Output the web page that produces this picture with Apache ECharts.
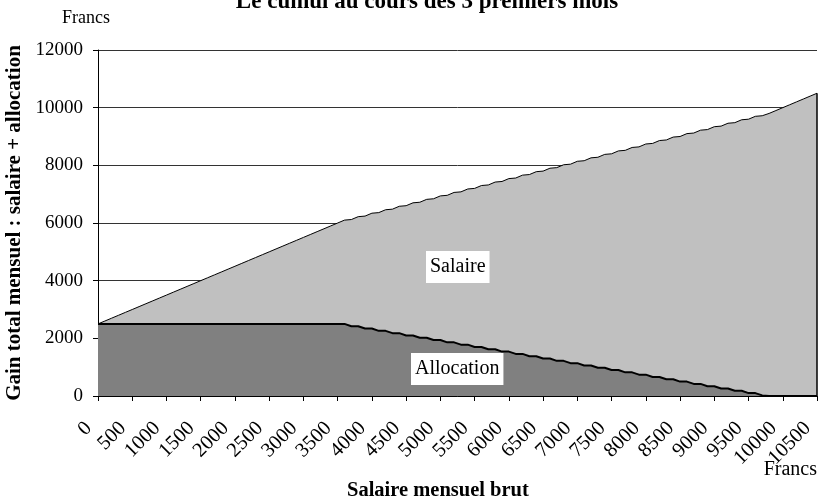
<!DOCTYPE html>
<html>
<head>
<meta charset="utf-8">
<script src="https://cdn.jsdelivr.net/npm/echarts@6/dist/echarts.min.js"></script>
<style>
  html, body { margin: 0; padding: 0; background: #fff; }
  #chart { width: 827px; height: 500px; }
</style>
</head>
<body>
<div id="chart"></div>
<script>
  // salaire mensuel brut (francs), also the salary part of the stack
  const salaireBrut = [
    0, 100, 200, 300, 400, 500, 600, 700, 800, 900,
    1000, 1100, 1200, 1300, 1400, 1500, 1600, 1700, 1800, 1900,
    2000, 2100, 2200, 2300, 2400, 2500, 2600, 2700, 2800, 2900,
    3000, 3100, 3200, 3300, 3400, 3500, 3600, 3700, 3800, 3900,
    4000, 4100, 4200, 4300, 4400, 4500, 4600, 4700, 4800, 4900,
    5000, 5100, 5200, 5300, 5400, 5500, 5600, 5700, 5800, 5900,
    6000, 6100, 6200, 6300, 6400, 6500, 6600, 6700, 6800, 6900,
    7000, 7100, 7200, 7300, 7400, 7500, 7600, 7700, 7800, 7900,
    8000, 8100, 8200, 8300, 8400, 8500, 8600, 8700, 8800, 8900,
    9000, 9100, 9200, 9300, 9400, 9500, 9600, 9700, 9800, 9900,
    10000, 10100, 10200, 10300, 10400, 10500
  ];

  const allocation = [
    2500, 2500, 2500, 2500, 2500, 2500, 2500, 2500, 2500, 2500,
    2500, 2500, 2500, 2500, 2500, 2500, 2500, 2500, 2500, 2500,
    2500, 2500, 2500, 2500, 2500, 2500, 2500, 2500, 2500, 2500,
    2500, 2500, 2500, 2500, 2500, 2500, 2500, 2420, 2420, 2340,
    2340, 2260, 2260, 2180, 2180, 2100, 2100, 2020, 2020, 1940,
    1940, 1860, 1860, 1780, 1780, 1700, 1700, 1620, 1620, 1540,
    1540, 1460, 1460, 1380, 1380, 1300, 1300, 1220, 1220, 1140,
    1140, 1060, 1060, 980, 980, 900, 900, 820, 820, 740,
    740, 660, 660, 580, 580, 500, 500, 420, 420, 340,
    340, 260, 260, 180, 180, 100, 100, 20, 0, 0,
    0, 0, 0, 0, 0, 0
  ];

  const categories = salaireBrut.map(v => String(v));

  const font = 'Liberation Serif';

  const chart = echarts.init(document.getElementById('chart'));

  const option = {
    animation: false,
    backgroundColor: '#fff',
    textStyle: { fontFamily: font, color: '#000' },
    grid: { left: 98, right: 10, top: 50, bottom: 104, outerBoundsMode: 'none', containLabel: false },
    xAxis: {
      type: 'category',
      data: categories,
      boundaryGap: false,
      axisLine: { lineStyle: { color: '#000', width: 1 } },
      axisTick: { interval: 4, length: 5, lineStyle: { color: '#000' } },
      axisLabel: {
        interval: 4,
        rotate: 45,
        margin: 20,
        padding: [0, 13, 0, 0],
        fontSize: 20.5,
        fontFamily: font,
        color: '#000'
      },
      splitLine: { show: false }
    },
    yAxis: {
      type: 'value',
      min: 0,
      max: 12000,
      interval: 2000,
      axisLine: { show: true, lineStyle: { color: '#000', width: 1 } },
      axisTick: { show: true, length: 5, lineStyle: { color: '#000' } },
      axisLabel: {
        margin: 15,
        fontSize: 19,
        fontFamily: font,
        color: '#000',
        formatter: v => String(v)
      },
      splitLine: { show: true, lineStyle: { color: '#333', width: 1 } },
      name: 'Gain total mensuel : salaire + allocation',
      nameLocation: 'middle',
      nameGap: 67,
      nameTextStyle: { fontSize: 21, fontWeight: 'bold', fontFamily: font, color: '#000' }
    },
    series: [
      {
        name: 'Allocation',
        type: 'line',
        stack: 'gain',
        data: allocation,
        symbol: 'none',
        lineStyle: { color: '#000', width: 2 },
        areaStyle: { color: '#808080', opacity: 1 },
        z: 3
      },
      {
        name: 'Salaire',
        type: 'line',
        stack: 'gain',
        data: salaireBrut,
        symbol: 'none',
        lineStyle: { color: '#000', width: 1 },
        areaStyle: { color: '#c0c0c0', opacity: 1 },
        z: 2,
        markLine: {
          silent: true,
          symbol: 'none',
          label: { show: false },
          lineStyle: { color: '#000', width: 1.5, type: 'solid' },
          data: [[{ coord: ['10500', 0] }, { coord: ['10500', 10500] }]]
        }
      }
    ],
    graphic: [
      {
        type: 'text',
        x: 427,
        y: 14,
        style: {
          text: 'Le cumul au cours des 3 premiers mois',
          font: 'bold 23px "Liberation Serif"',
          fill: '#000',
          textAlign: 'center',
          textVerticalAlign: 'bottom'
        }
      },
      {
        type: 'text',
        left: 62,
        top: 9,
        style: { text: 'Francs', font: '18px "Liberation Serif"', fill: '#000' }
      },
      {
        type: 'text',
        right: 10,
        top: 460,
        style: { text: 'Francs', font: '20px "Liberation Serif"', fill: '#000' }
      },
      {
        type: 'text',
        left: 347,
        top: 480,
        style: { text: 'Salaire mensuel brut', font: 'bold 20.5px "Liberation Serif"', fill: '#000' }
      },
      {
        type: 'text',
        left: 426,
        top: 251,
        z: 10,
        style: {
          text: 'Salaire',
          font: '20px "Liberation Serif"',
          fill: '#000',
          backgroundColor: '#fff',
          padding: [6, 4, 6, 4]
        }
      },
      {
        type: 'text',
        left: 411,
        top: 353,
        z: 10,
        style: {
          text: 'Allocation',
          font: '20px "Liberation Serif"',
          fill: '#000',
          backgroundColor: '#fff',
          padding: [6, 4, 6, 4]
        }
      }
    ]
  };

  chart.setOption(option);

  window.addEventListener('resize', function () {
    chart.resize();
  });
</script>
</body>
</html>
